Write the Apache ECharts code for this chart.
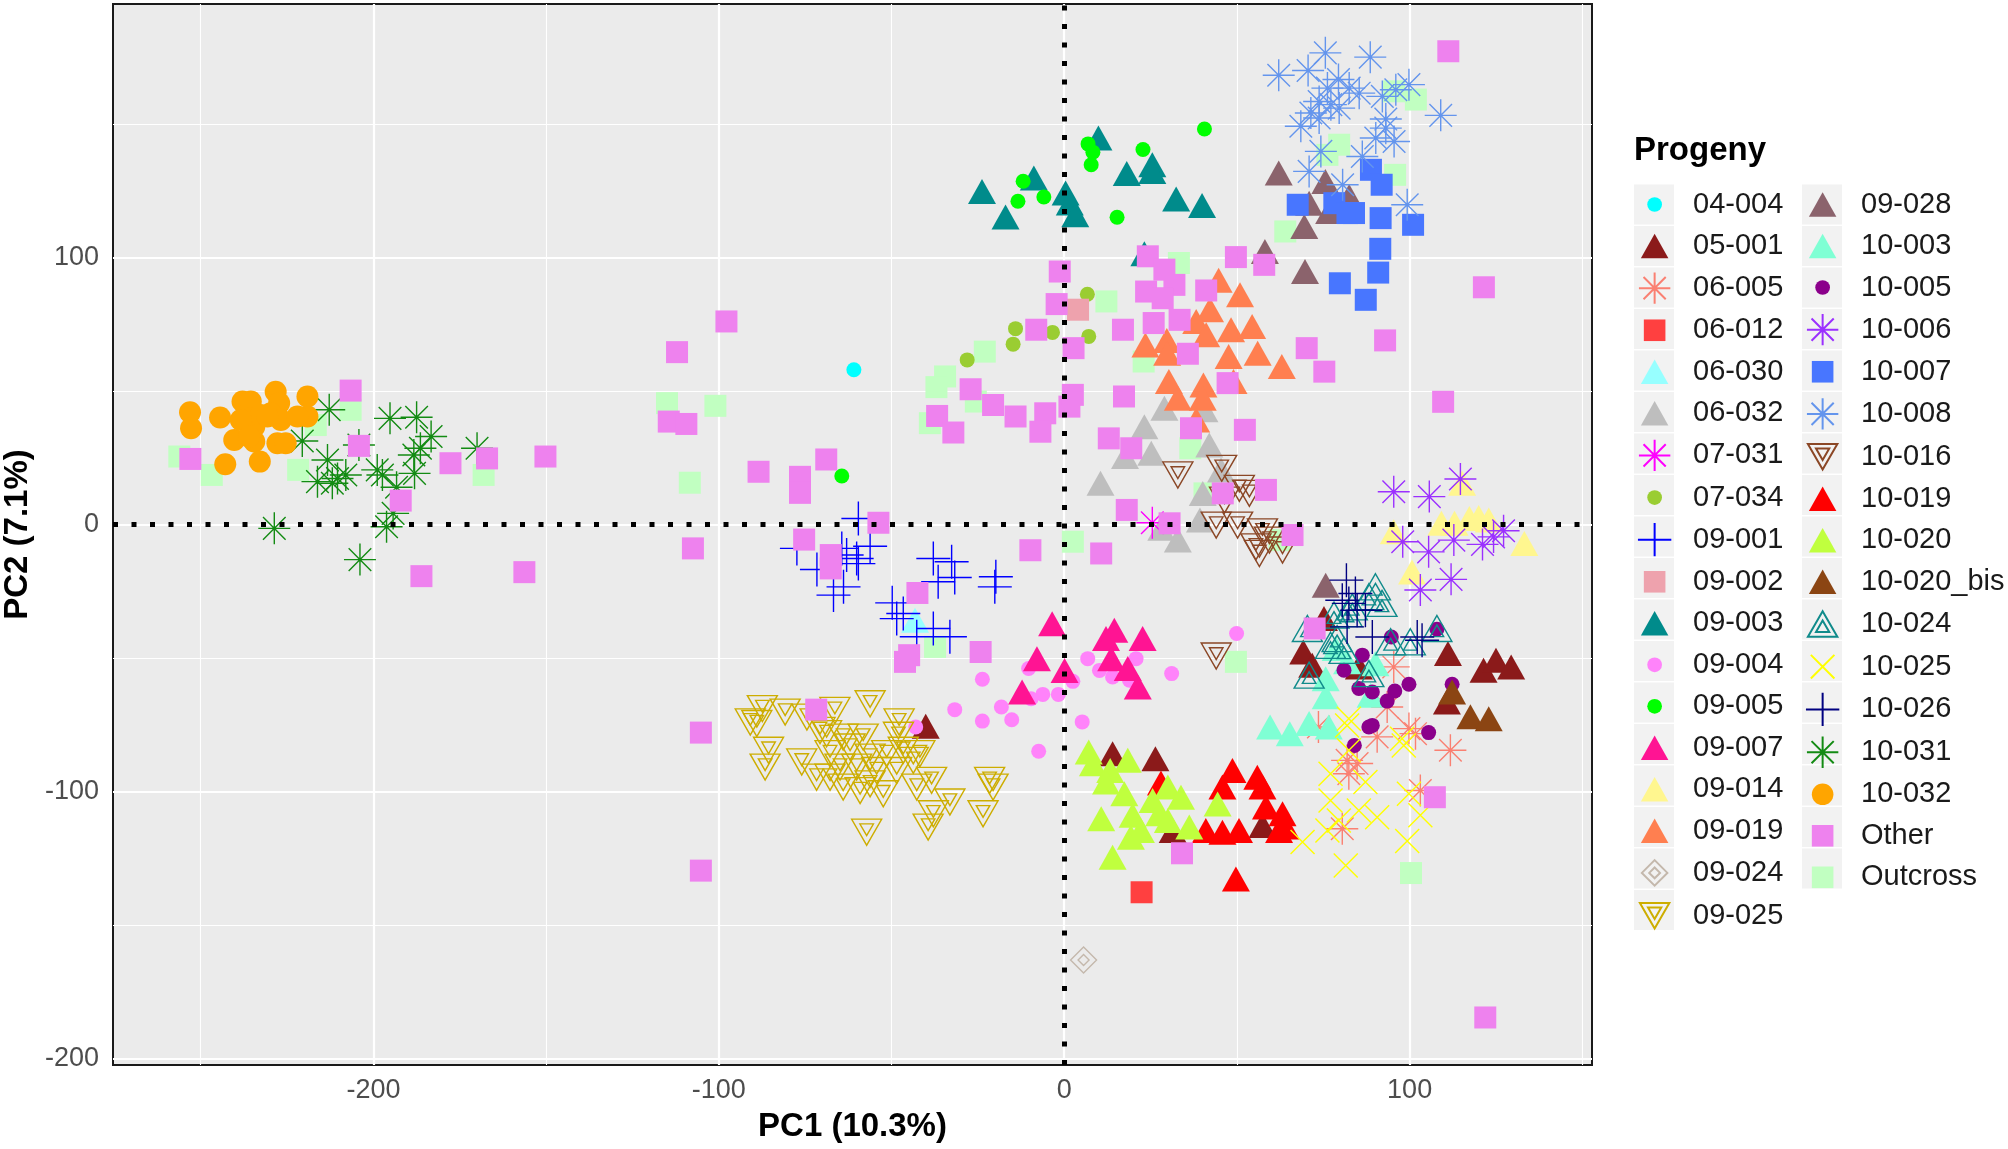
<!DOCTYPE html>
<html>
<head>
<meta charset="utf-8">
<title>PCA progeny</title>
<script src="https://cdn.jsdelivr.net/npm/echarts@6/dist/echarts.min.js"></script>
<style>
html, body { margin: 0; padding: 0; background: #fff; }
#chart { width: 2008px; height: 1149px; }
</style>
</head>
<body>
<div id="chart"></div>
<script>
// axis ticks and grid lines
const xTicks = [-200, -100, 0, 100];
const yTicks = [-200, -100, 0, 100];
const xGrid = [-250, -200, -150, -100, -50, 0, 50, 100, 150];
const yGrid = [-200, -150, -100, -50, 0, 50, 100, 150];

// points per progeny: [PC1, PC2]
const p04_004 = [[-60.9, 57.9]];
const p05_001 = [[-40.1, -75.6], [14.0, -85.9], [26.4, -87.8], [31.4, -114.7], [57.4, -112.8], [75.2, -35.3], [69.2, -47.8], [71.8, -52.8], [85.3, -53.4], [111.1, -48.4], [121.4, -54.6], [125.0, -50.9], [129.4, -53.4], [110.8, -66.5]];
const p06_005 = [[73.6, -75.9], [90.6, -79.6], [99.8, -76.5], [101.7, -78.4], [111.8, -84.6], [81.9, -88.4], [82.4, -93.4], [84.8, -89.6], [103.1, -99.7], [80.5, -114.0], [95.4, -53.4], [93.5, -68.4]];
const p06_012 = [[22.4, -137.8]];
const p06_030 = [[-43.2, -35.9]];
const p06_032 = [[29.0, 43.5], [40.6, 42.9], [23.2, 36.6], [17.6, 25.4], [25.2, 26.6], [10.5, 15.4], [42.0, 29.7], [45.4, 20.4], [40.1, 11.6], [39.3, 1.6], [32.9, -5.9], [28.1, -1.5]];
const p07_031 = [[25.5, 0.6]];
const p07_034 = [[6.7, 86.2], [7.1, 70.4], [-3.4, 71.9], [-14.1, 73.3], [-14.8, 67.5], [-28.1, 61.6]];
const p09_001 = [[-59.6, 2.2], [-77.4, -9.0], [-64.4, -9.0], [-63.0, -11.5], [-56.2, -8.2], [-60.1, -12.8], [-59.6, -14.7], [-71.6, -16.9], [-63.9, -23.4], [-66.8, -26.5], [-49.8, -29.4], [-46.6, -33.4], [-48.5, -35.3], [-42.7, -42.1], [-37.9, -12.8], [-32.6, -14.0], [-36.5, -21.5], [-31.7, -19.9], [-19.8, -19.6], [-20.1, -23.4], [-37.9, -39.0], [-33.1, -42.1]];
const p09_002 = [[4.0, 80.4]];
const p09_003 = [[9.9, 144.7], [-8.8, 129.7], [-23.8, 124.7], [-17.0, 115.1], [0.4, 124.1], [1.6, 120.4], [3.2, 116.0], [18.1, 131.4], [25.5, 134.7], [25.5, 132.2], [32.4, 121.9], [39.9, 119.4], [23.2, 101.4]];
const p09_004 = [[49.9, -40.9], [-10.3, -54.0], [-23.7, -58.0], [-18.2, -68.4], [-15.2, -73.2], [-23.7, -73.7], [-7.4, -85.0], [5.2, -74.0], [-6.2, -63.7], [-1.7, -63.7], [-9.6, -65.3], [2.5, -58.8], [6.8, -50.3], [10.2, -54.7], [14.0, -57.2], [18.9, -58.4], [20.8, -50.3], [31.1, -55.9], [-43.0, -75.9], [-31.7, -69.4]];
const p09_005 = [[40.6, 148.1], [6.9, 142.5], [8.3, 139.4], [7.8, 134.7], [22.8, 140.4], [-11.9, 128.5], [-13.4, 121.0], [-5.9, 122.6], [15.3, 115.0], [-64.4, 18.1]];
const p09_007 = [[-3.5, -37.2], [-7.9, -50.3], [0.1, -54.7], [-12.2, -62.8], [12.1, -42.8], [14.5, -39.7], [22.7, -42.8], [13.6, -50.3], [18.4, -54.0], [21.3, -60.9]];
const p09_014 = [[95.4, -2.8], [109.2, 0.4], [113.0, 0.4], [117.3, 2.2], [120.0, 2.6], [133.2, -7.2], [100.7, -17.8], [115.2, 15.4], [122.9, 1.6]];
const p09_019 = [[44.7, 91.4], [50.9, 86.0], [42.2, 80.4], [38.2, 76.0], [41.1, 71.0], [48.3, 72.9], [54.4, 74.1], [29.7, 68.9], [23.5, 67.2], [29.8, 64.1], [47.6, 62.9], [56.0, 64.1], [63.0, 59.1], [30.3, 53.5], [40.3, 52.2], [49.0, 53.5], [32.9, 47.2], [40.1, 47.2], [38.2, 39.1]];
const p09_024 = [[5.6, -163.2]];
const p09_025 = [[-87.4, -69.0], [-89.0, -74.6], [-80.8, -70.3], [-74.5, -72.2], [-66.4, -69.7], [-56.2, -67.2], [-47.8, -74.0], [-48.0, -79.0], [-85.6, -84.6], [-86.6, -90.9], [-76.0, -89.0], [-71.7, -94.7], [-68.8, -78.4], [-64.0, -79.7], [-58.2, -79.7], [-62.0, -83.4], [-67.8, -85.9], [-56.2, -87.2], [-51.4, -85.9], [-46.6, -84.6], [-41.8, -85.9], [-64.9, -90.9], [-60.1, -90.9], [-54.3, -92.2], [-48.5, -92.2], [-43.7, -88.4], [-64.0, -98.4], [-59.1, -99.7], [-52.4, -100.9], [-56.2, -97.2], [-67.8, -94.7], [-42.7, -98.4], [-38.4, -95.9], [-33.1, -104.0], [-37.9, -108.4], [-39.4, -113.4], [-23.5, -108.4], [-21.6, -95.9], [-20.6, -98.4], [-57.2, -115.3], [-70.7, -77.2], [-90.9, -74.0]];
const p09_028 = [[62.1, 131.6], [75.6, 128.4], [70.9, 120.3], [69.5, 111.6], [76.7, 117.2], [82.5, 122.8], [58.1, 102.2], [69.7, 94.7], [75.7, -22.8]];
const p10_003 = [[75.7, -57.8], [75.7, -64.6], [59.6, -75.9], [65.3, -78.4], [70.9, -74.6], [76.6, -75.9], [88.7, -64.0], [90.1, -52.2], [78.6, -46.5], [81.9, -51.5]];
const p10_005 = [[94.7, -42.2], [107.9, -39.3], [86.3, -49.0], [81.0, -54.6], [85.3, -61.5], [89.2, -62.8], [95.7, -62.4], [99.8, -59.9], [93.5, -66.2], [112.3, -59.9], [89.2, -75.3], [88.2, -75.9], [105.5, -78.0], [84.0, -82.8]];
const p10_006 = [[95.4, 12.2], [105.7, 10.4], [114.7, 17.0], [98.0, -6.5], [105.5, -10.3], [112.8, -5.9], [121.1, -7.5], [124.3, -4.7], [127.2, -2.4], [103.1, -24.6], [112.0, -20.6]];
const p10_007 = [[88.8, 132.8], [91.9, 127.2], [67.6, 119.7], [78.2, 120.3], [82.0, 116.6], [83.9, 116.6], [91.6, 114.7], [101.0, 112.2], [91.5, 103.2], [90.9, 94.3], [79.8, 90.3], [87.3, 84.1]];
const p10_008 = [[62.1, 168.2], [70.6, 170.0], [75.6, 176.6], [88.6, 175.0], [79.4, 166.6], [82.5, 163.4], [85.4, 161.5], [92.1, 160.3], [96.0, 162.8], [99.8, 164.7], [109.0, 153.2], [73.8, 158.4], [77.2, 157.2], [79.6, 155.9], [71.4, 154.1], [68.5, 149.1], [73.8, 152.2], [93.1, 151.8], [93.1, 148.4], [90.2, 144.7], [95.5, 143.4], [86.3, 137.8], [70.9, 132.2], [74.3, 139.7], [80.6, 127.2], [99.3, 119.7], [76.2, 163.4]];
const p10_016 = [[32.9, 18.5], [45.6, 21.0], [50.7, 13.5], [53.6, 11.6], [46.4, 9.1], [44.0, -0.3], [50.2, -0.3], [57.4, -2.8], [55.5, -8.4], [63.2, -9.6], [56.5, -10.9], [59.4, -5.9], [44.0, -49.3]];
const p10_019 = [[28.0, -96.9], [48.7, -92.2], [55.9, -94.7], [45.8, -98.4], [57.4, -98.4], [58.4, -105.9], [63.2, -108.4], [62.2, -114.7], [41.0, -114.7], [45.8, -115.3], [50.6, -114.7], [49.7, -132.8], [64.1, -113.4]];
const p10_020 = [[7.1, -85.3], [8.3, -89.7], [18.4, -88.4], [13.3, -92.2], [12.1, -96.5], [17.4, -100.9], [10.7, -110.3], [19.8, -109.0], [19.3, -117.2], [14.0, -124.7], [25.6, -103.4], [30.0, -98.4], [33.8, -102.2], [27.5, -108.4], [30.0, -110.9], [36.2, -113.4], [44.4, -104.7], [22.2, -114.7]];
const p10_020_bis = [[112.3, -62.8], [117.6, -72.1], [122.9, -72.8]];
const p10_024 = [[90.1, -23.4], [92.0, -29.6], [88.2, -27.1], [83.4, -30.9], [81.9, -33.4], [78.1, -34.0], [70.4, -39.0], [79.0, -42.8], [77.1, -45.3], [81.0, -47.2], [94.5, -44.0], [100.2, -44.0], [107.9, -39.0], [88.2, -55.9], [70.9, -56.5]];
const p10_025 = [[81.9, -75.3], [82.4, -84.6], [77.1, -93.4], [87.2, -96.5], [77.1, -103.4], [85.3, -107.2], [90.6, -109.7], [79.5, -110.9], [76.2, -114.7], [69.0, -119.0], [81.5, -127.8], [99.8, -100.9], [103.1, -109.0], [99.3, -118.6], [98.3, -82.8], [82.4, -72.8], [97.8, -80.3]];
const p10_026 = [[81.7, -20.9], [84.3, -25.9], [80.5, -28.4], [82.4, -29.6], [84.8, -32.2], [87.2, -32.2], [89.2, -42.2], [102.2, -42.2], [103.6, -43.4], [81.9, -38.4]];
const p10_031 = [[-212.8, 42.9], [-220.6, 31.2], [-213.3, 24.1], [-216.2, 16.0], [-211.9, 15.4], [-208.0, 18.5], [-210.4, 17.2], [-195.2, 39.7], [-187.5, 40.1], [-183.3, 32.9], [-186.4, 28.5], [-188.3, 26.0], [-188.1, 19.1], [-198.9, 20.4], [-197.4, 18.5], [-193.3, 13.9], [-194.3, 4.1], [-196.2, -0.9], [-228.7, -1.5], [-203.9, -13.2], [-170.0, 28.5], [-204.2, 29.7]];
const p10_032 = [[-253.1, 42.0], [-252.8, 36.0], [-244.4, 40.0], [-240.3, 31.6], [-237.9, 46.0], [-235.5, 46.0], [-236.5, 39.7], [-234.5, 36.6], [-232.6, 41.0], [-234.5, 31.0], [-232.9, 23.5], [-242.9, 22.5], [-228.3, 49.7], [-227.3, 45.4], [-229.7, 41.6], [-227.8, 30.4], [-225.4, 30.4], [-226.8, 39.1], [-219.1, 47.9], [-219.1, 40.4], [-222.0, 40.4], [-238.4, 39.1], [-236.0, 32.9], [-230.7, 40.4]];
const pOther = [[-253.0, 24.5], [-206.6, 50.1], [-204.2, 29.4], [-192.1, 8.9], [-186.1, -19.4], [-177.7, 22.9], [-167.1, 24.7], [-150.2, 25.4], [-156.3, -17.9],
  [-112.1, 64.5], [-97.8, 76.0], [-114.5, 38.5], [-109.4, 37.6], [-107.5, -9.0], [-88.5, 19.7], [-76.5, 17.8], [-76.5, 11.8], [-68.9, 24.3], [-75.3, -5.7], [-53.8, 0.6], [-67.6, -11.5], [-67.6, -16.5], [-42.5, -25.7], [-9.8, -9.7], [-24.2, -47.8], [-44.9, -49.0], [-46.1, -51.5], [-71.8, -69.4], [-105.2, -78.0], [-105.2, -129.7],
  [-8.1, 72.9], [-36.8, 40.6], [-32.1, 34.4], [-20.6, 44.7], [-14.1, 40.4], [-5.5, 41.6], [-6.9, 34.7], [1.5, 44.1], [2.7, 66.0], [-2.2, 82.5], [-27.1, 50.6], [-1.3, 94.7], [17.0, 72.9], [25.9, 75.4], [33.4, 76.6], [24.2, 100.4], [29.0, 95.4], [23.7, 87.2], [31.9, 89.7], [28.5, 84.7], [41.1, 87.6], [49.7, 100.1], [57.9, 97.2], [70.2, 66.0], [75.3, 57.2], [35.8, 63.9], [47.3, 52.9], [17.3, 47.9], [2.5, 48.5], [12.9, 32.2], [19.4, 28.5], [36.7, 36.0], [52.3, 35.4], [58.4, 12.9], [45.9, 11.6], [18.1, 5.4], [30.5, 0.4], [66.1, -4.0], [10.7, -10.9], [72.5, -39.0], [34.1, -123.2],
  [111.2, 177.2], [121.5, 88.8], [92.9, 68.9], [109.7, 45.9], [107.3, -102.2], [121.9, -184.7]];
const pOutcross = [[-256.2, 25.4], [-246.8, 18.5], [-221.8, 20.4], [-206.6, 42.9], [-216.7, 37.2], [-168.1, 18.5], [-115.0, 45.4], [-101.0, 44.4], [-108.4, 15.6], [-23.0, 64.7], [-34.5, 55.4], [-37.0, 51.4], [-25.6, 46.0], [-38.9, 37.9], [-37.4, -45.9], [2.5, -6.5], [33.2, 97.9], [12.2, 83.5], [64.0, 109.7], [23.0, 61.0], [36.5, 28.5], [40.6, 11.6], [62.3, -5.9], [101.8, 159.1], [95.5, 162.2], [79.6, 142.2], [76.2, 138.4], [95.8, 130.9], [49.7, -51.5], [100.4, -130.6]];

// legend columns
const legendCol1 = ['04-004', '05-001', '06-005', '06-012', '06-030', '06-032', '07-031', '07-034', '09-001', '09-002', '09-003', '09-004', '09-005', '09-007', '09-014', '09-019', '09-024', '09-025'];
const legendCol2 = ['09-028', '10-003', '10-005', '10-006', '10-007', '10-008', '10-016', '10-019', '10-020', '10-020_bis', '10-024', '10-025', '10-026', '10-031', '10-032', 'Other', 'Outcross'];

const groupData = {
  '04-004': p04_004, '05-001': p05_001, '06-005': p06_005, '06-012': p06_012, '06-030': p06_030,
  '06-032': p06_032, '07-031': p07_031, '07-034': p07_034, '09-001': p09_001, '09-002': p09_002,
  '09-003': p09_003, '09-004': p09_004, '09-005': p09_005, '09-007': p09_007, '09-014': p09_014,
  '09-019': p09_019, '09-024': p09_024, '09-025': p09_025, '09-028': p09_028, '10-003': p10_003,
  '10-005': p10_005, '10-006': p10_006, '10-007': p10_007, '10-008': p10_008, '10-016': p10_016,
  '10-019': p10_019, '10-020': p10_020, '10-020_bis': p10_020_bis, '10-024': p10_024, '10-025': p10_025,
  '10-026': p10_026, '10-031': p10_031, '10-032': p10_032, 'Other': pOther, 'Outcross': pOutcross
};

// shapes, drawn in pixel units around (0,0)
const shapes = {
  dot:     { d: 'M-7.5,0A7.5,7.5,0,1,1,7.5,0A7.5,7.5,0,1,1,-7.5,0Z', symbol: 'circle', size: 15 },
  bigDot:  { d: 'M-11,0A11,11,0,1,1,11,0A11,11,0,1,1,-11,0Z', symbol: 'circle', size: 22 },
  tri:     { d: 'M0,-12.5L14,12.5L-14,12.5Z', symbol: 'triangle', size: [28, 25] },
  square:  { d: 'M-11,-11L11,-11L11,11L-11,11Z', symbol: 'rect', size: 22 },
  star:    { d: 'M0,-16L0,16M-16,0L16,0M-11.3,-11.3L11.3,11.3M-11.3,11.3L11.3,-11.3', size: 32, open: true },
  plus:    { d: 'M0,-17L0,17M-17,0L17,0', size: 34, open: true },
  cross:   { d: 'M-12,-12L12,12M-12,12L12,-12', size: 24, open: true },
  triDown: { d: 'M-15,-13L15,-13L0,13ZM-6.75,-8.23L6.75,-8.23L0,3.47Z', size: [30, 26], open: true },
  triUp:   { d: 'M0,-13L15,13L-15,13ZM0,-3.47L6.75,8.23L-6.75,8.23Z', size: [30, 26], open: true },
  diamond: { d: 'M0,-13L13,0L0,13L-13,0ZM0,-5.5L5.5,0L0,5.5L-5.5,0Z', size: 26, open: true }
};

const styleOf = {
  '04-004': ['#00FFFF', 'dot'], '05-001': ['#8B1A1A', 'tri'], '06-005': ['#FA8072', 'star'],
  '06-012': ['#FF4040', 'square'], '06-030': ['#97FFFF', 'tri'], '06-032': ['#BEBEBE', 'tri'],
  '07-031': ['#FF00FF', 'star'], '07-034': ['#9ACD32', 'dot'], '09-001': ['#0000FF', 'plus'],
  '09-002': ['#EEA2AD', 'square'], '09-003': ['#008B8B', 'tri'], '09-004': ['#FF83FA', 'dot'],
  '09-005': ['#00FF00', 'dot'], '09-007': ['#FF1493', 'tri'], '09-014': ['#FFF68F', 'tri'],
  '09-019': ['#FF7F50', 'tri'], '09-024': ['#C4B8AC', 'diamond'], '09-025': ['#CDAD00', 'triDown'],
  '09-028': ['#8B636C', 'tri'], '10-003': ['#7FFFD4', 'tri'], '10-005': ['#8B008B', 'dot'],
  '10-006': ['#9B30FF', 'star'], '10-007': ['#4876FF', 'square'], '10-008': ['#6495ED', 'star'],
  '10-016': ['#8B4726', 'triDown'], '10-019': ['#FF0000', 'tri'], '10-020': ['#C0FF3E', 'tri'],
  '10-020_bis': ['#8B4513', 'tri'], '10-024': ['#108B8B', 'triUp'], '10-025': ['#FFFF00', 'cross'],
  '10-026': ['#000080', 'plus'], '10-031': ['#138B13', 'star'], '10-032': ['#FFA500', 'bigDot'],
  'Other': ['#EE82EE', 'square'], 'Outcross': ['#C1FFC1', 'square']
};

const FONT = '"Liberation Sans", Arial, Helvetica, sans-serif';

function makeSeries(name) {
  const col = styleOf[name][0];
  const sh = shapes[styleOf[name][1]];
  return {
    name: name,
    type: 'scatter',
    data: groupData[name],
    symbol: sh.symbol || ('path://' + sh.d),
    symbolSize: sh.size,
    itemStyle: sh.open
      ? { color: 'rgba(0,0,0,0)', borderColor: col, borderWidth: 1.4, opacity: 1 }
      : { color: col, borderWidth: 0, opacity: 1 },
    emphasis: { disabled: true },
    silent: true,
    z: 2
  };
}

// legend icon: shape centered in a 40x40 key box, then extra room so the label starts further right
function legendIcon(name) {
  return 'path://M-20,-20M34,20' + shapes[styleOf[name][1]].d;
}

const chart = echarts.init(document.getElementById('chart'), null, { renderer: 'canvas' });

// draw order: outcross below, others in legend order, "Other" on top
const order = ['Outcross'].concat(legendCol1, legendCol2.filter(n => n !== 'Other' && n !== 'Outcross'), ['Other']);

const gridLines = [];
xGrid.forEach(v => gridLines.push({ xAxis: v, lineStyle: { color: '#FFFFFF', width: v % 100 === 0 ? 2.2 : 1.1, type: 'solid' } }));
yGrid.forEach(v => gridLines.push({ yAxis: v, lineStyle: { color: '#FFFFFF', width: v % 100 === 0 ? 2.2 : 1.1, type: 'solid' } }));

const series = [{
  name: '__grid', type: 'scatter', data: [], silent: true, z: 1,
  markLine: { silent: true, animation: false, symbol: ['none', 'none'], label: { show: false }, z: 1, data: gridLines }
}].concat(order.map(makeSeries), [{
  name: '__zero', type: 'scatter', data: [], silent: true, z: 10,
  markLine: {
    silent: true, animation: false, symbol: ['none', 'none'], label: { show: false }, z: 10,
    lineStyle: { color: '#000000', width: 5, type: [5, 13.5], cap: 'butt' },
    data: [{ xAxis: 0 }, { yAxis: 0 }]
  }
}]);

const LEGEND_TOP = 184.5;
const LEGEND_GAP = 1.5;

function bgLegend(names, left) {
  return {
    data: names.map(n => ({ name: n, icon: 'rect' })),
    orient: 'vertical', left: left, top: LEGEND_TOP, padding: 0,
    itemWidth: 40, itemHeight: 40, itemGap: LEGEND_GAP,
    selectedMode: false, z: 3,
    itemStyle: { color: '#F2F2F2', borderWidth: 0 },
    textStyle: { color: 'rgba(0,0,0,0)', fontSize: 10, lineHeight: 40 }
  };
}
function fgLegend(names, left) {
  return {
    data: names.map(n => ({ name: n, icon: legendIcon(n) })),
    orient: 'vertical', left: left, top: LEGEND_TOP, padding: 0,
    itemWidth: 53, itemHeight: 40, itemGap: LEGEND_GAP,
    selectedMode: false, z: 5,
    textStyle: { color: '#1A1A1A', fontSize: 29, lineHeight: 40, fontFamily: FONT }
  };
}

const option = {
  animation: false,
  backgroundColor: '#FFFFFF',
  title: {
    text: 'Progeny', left: 1634, top: 133, padding: 0,
    textStyle: { fontSize: 33, fontWeight: 'bold', color: '#000000', fontFamily: FONT, lineHeight: 36 }
  },
  legend: [bgLegend(legendCol1, 1634), bgLegend(legendCol2, 1802), fgLegend(legendCol1, 1634), fgLegend(legendCol2, 1802)],
  grid: {
    left: 113, top: 4, width: 1479, height: 1061,
    show: true, backgroundColor: '#EBEBEB', borderColor: '#1A1A1A', borderWidth: 2,
    containLabel: false, outerBoundsMode: 'none'
  },
  xAxis: {
    type: 'value', min: -275.4, max: 152.8,
    axisLine: { show: false },
    splitLine: { show: false },
    axisTick: { show: true, customValues: xTicks, length: 7, lineStyle: { color: '#333333', width: 2 } },
    axisLabel: { customValues: xTicks, fontSize: 27, color: '#4D4D4D', margin: 12, fontFamily: FONT },
    name: 'PC1 (10.3%)', nameLocation: 'middle', nameGap: 45,
    nameTextStyle: { fontSize: 33, fontWeight: 'bold', color: '#000000', fontFamily: FONT }
  },
  yAxis: {
    type: 'value', min: -202.5, max: 194.9,
    axisLine: { show: false },
    splitLine: { show: false },
    axisTick: { show: true, customValues: yTicks, length: 7, lineStyle: { color: '#333333', width: 2 } },
    axisLabel: { customValues: yTicks, fontSize: 27, color: '#4D4D4D', margin: 14, fontFamily: FONT },
    name: 'PC2 (7.1%)', nameLocation: 'middle', nameGap: 78,
    nameTextStyle: { fontSize: 33, fontWeight: 'bold', color: '#000000', fontFamily: FONT }
  },
  series: series
};

chart.setOption(option);
</script>
</body>
</html>
